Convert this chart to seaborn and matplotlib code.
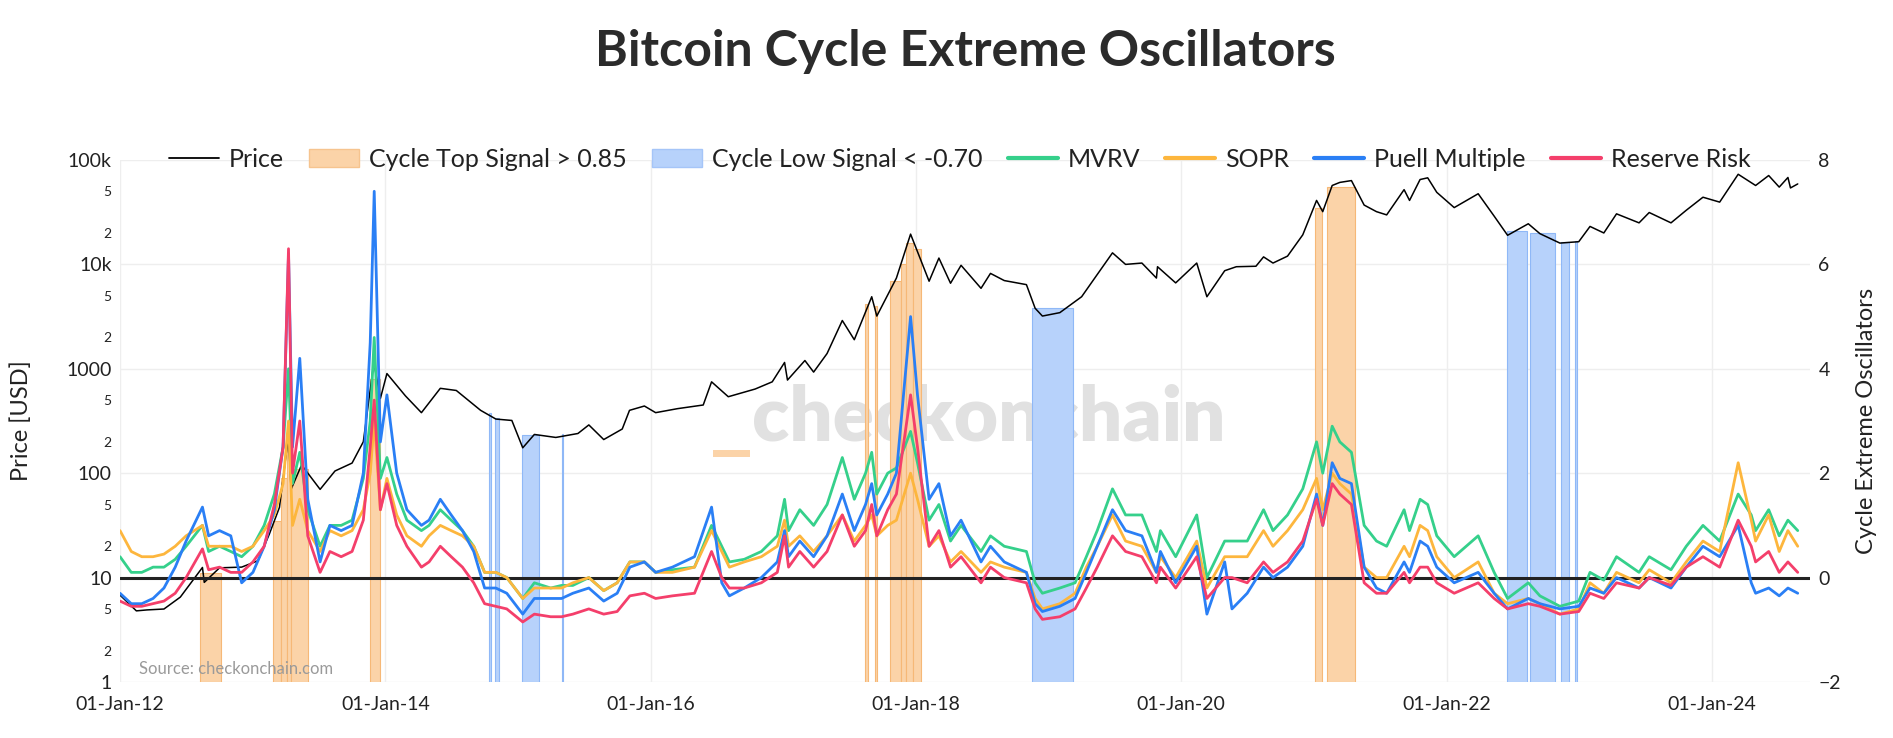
import numpy as np
import pandas as pd
import matplotlib
matplotlib.use('Agg')
import matplotlib.pyplot as plt
import matplotlib.dates as mdates
from matplotlib.lines import Line2D
from matplotlib.patches import Patch, Rectangle
import seaborn as sns

# ---- price (USD) ----
price_dates = ['2012-01-01', '2012-02-15', '2012-03-15', '2012-05-01', '2012-06-15', '2012-08-15', '2012-08-20',
               '2012-10-01', '2012-12-01', '2013-01-15', '2013-02-15', '2013-03-15', '2013-04-09', '2013-04-16',
               '2013-05-15', '2013-07-05', '2013-08-15', '2013-10-01', '2013-11-01', '2013-11-30', '2013-12-18',
               '2014-01-05', '2014-02-25', '2014-04-10', '2014-06-01', '2014-07-15', '2014-09-20', '2014-11-01',
               '2014-12-15', '2015-01-14', '2015-02-15', '2015-04-15', '2015-06-15', '2015-07-15', '2015-08-25',
               '2015-10-15', '2015-11-04', '2015-12-15', '2016-01-15', '2016-03-15', '2016-05-25', '2016-06-17',
               '2016-08-02', '2016-10-15', '2016-12-01', '2017-01-04', '2017-01-12', '2017-03-01', '2017-03-25',
               '2017-05-01', '2017-06-12', '2017-07-15', '2017-09-01', '2017-09-15', '2017-11-08', '2017-12-17',
               '2018-02-06', '2018-03-05', '2018-04-06', '2018-05-05', '2018-06-29', '2018-07-25', '2018-09-01',
               '2018-11-01', '2018-11-25', '2018-12-15', '2019-02-01', '2019-04-02', '2019-05-15', '2019-06-26',
               '2019-08-01', '2019-09-15', '2019-10-25', '2019-10-28', '2019-12-17', '2020-02-13', '2020-03-12',
               '2020-04-30', '2020-06-01', '2020-07-25', '2020-08-15', '2020-09-10', '2020-10-20', '2020-12-01',
               '2021-01-08', '2021-01-25', '2021-02-20', '2021-03-13', '2021-04-14', '2021-05-19', '2021-06-22',
               '2021-07-20', '2021-09-06', '2021-09-21', '2021-10-20', '2021-11-10', '2021-12-05', '2022-01-22',
               '2022-03-29', '2022-05-12', '2022-06-18', '2022-08-14', '2022-09-15', '2022-11-09', '2022-12-31',
               '2023-01-31', '2023-03-10', '2023-04-14', '2023-06-15', '2023-07-13', '2023-09-11', '2023-10-23',
               '2023-12-08', '2024-01-23', '2024-03-14', '2024-05-01', '2024-06-06', '2024-07-05', '2024-07-29',
               '2024-08-05', '2024-08-25']
price = [6.8, 4.8, 4.9, 5.0, 6.5, 12.5, 9.0,
         12.4, 12.6, 14.5, 26, 47, 230, 70,
         120, 70, 105, 125, 200, 1150, 520,
         900, 550, 380, 650, 620, 400, 330,
         320, 175, 235, 220, 240, 290, 210,
         265, 400, 440, 380, 415, 450, 750,
         540, 640, 750, 1150, 780, 1200, 930,
         1400, 2900, 1900, 4900, 3200, 7400, 19500,
         6900, 11500, 6600, 9800, 5900, 8200, 7000,
         6400, 3800, 3200, 3450, 4900, 8000, 12900,
         10000, 10300, 7400, 9500, 6650, 10300, 4900,
         8700, 9500, 9600, 11800, 10300, 12000, 19200,
         41000, 32000, 57000, 61000, 63500, 37000, 32000,
         29800, 52000, 41000, 65000, 67500, 49000, 35000,
         47500, 29000, 19000, 24500, 19700, 16000, 16500,
         23100, 20000, 30500, 25000, 31400, 25000, 33000,
         44000, 39500, 73000, 57000, 71000, 55000, 68000,
         54000, 59000]

# ---- oscillators ----
osc_dates = ['2012-01-01', '2012-02-01', '2012-03-01', '2012-04-01', '2012-05-01', '2012-06-01', '2012-07-01',
             '2012-08-15', '2012-09-01', '2012-10-01', '2012-11-01', '2012-12-01', '2013-01-01', '2013-02-01',
             '2013-03-01', '2013-03-25', '2013-04-09', '2013-04-20', '2013-05-10', '2013-06-01', '2013-07-05',
             '2013-08-01', '2013-09-01', '2013-10-01', '2013-11-01', '2013-11-20', '2013-12-01', '2013-12-18',
             '2014-01-05', '2014-02-01', '2014-03-01', '2014-04-10', '2014-05-01', '2014-06-01', '2014-07-01',
             '2014-08-01', '2014-09-01', '2014-10-01', '2014-11-01', '2014-12-01', '2015-01-14', '2015-02-15',
             '2015-04-01', '2015-05-01', '2015-06-01', '2015-07-15', '2015-08-25', '2015-10-01', '2015-11-05',
             '2015-12-15', '2016-01-15', '2016-03-01', '2016-05-01', '2016-06-17', '2016-07-15', '2016-08-05',
             '2016-09-15', '2016-11-01', '2016-12-15', '2017-01-04', '2017-01-15', '2017-02-15', '2017-03-25',
             '2017-05-01', '2017-06-12', '2017-07-15', '2017-08-15', '2017-09-01', '2017-09-15', '2017-10-15',
             '2017-11-08', '2017-12-17', '2018-01-05', '2018-02-06', '2018-03-05', '2018-04-06', '2018-05-05',
             '2018-06-29', '2018-07-25', '2018-09-01', '2018-11-01', '2018-11-25', '2018-12-15', '2019-02-01',
             '2019-03-15', '2019-04-15', '2019-05-15', '2019-06-26', '2019-08-01', '2019-09-15', '2019-10-25',
             '2019-11-05', '2019-12-17', '2020-02-13', '2020-03-12', '2020-04-30', '2020-05-20', '2020-07-01',
             '2020-08-15', '2020-09-10', '2020-10-20', '2020-12-01', '2021-01-08', '2021-01-25', '2021-02-20',
             '2021-03-13', '2021-04-14', '2021-05-19', '2021-06-22', '2021-07-20', '2021-09-06', '2021-09-21',
             '2021-10-20', '2021-11-10', '2021-12-05', '2022-01-22', '2022-03-29', '2022-05-12', '2022-06-18',
             '2022-08-14', '2022-09-15', '2022-11-09', '2022-12-31', '2023-01-31', '2023-03-10', '2023-04-14',
             '2023-06-15', '2023-07-13', '2023-09-11', '2023-10-23', '2023-12-08', '2024-01-23', '2024-03-14',
             '2024-04-19', '2024-05-01', '2024-06-06', '2024-07-05', '2024-07-29', '2024-08-25']
mvrv = [0.4, 0.1, 0.1, 0.2, 0.2, 0.35, 0.6,
        1.0, 0.5, 0.6, 0.5, 0.4, 0.6, 1.0,
        1.6, 2.5, 4.0, 1.8, 2.4, 1.3, 0.6,
        1.0, 1.0, 1.1, 1.9, 3.0, 4.6, 1.9,
        2.3, 1.6, 1.1, 0.9, 1.0, 1.3, 1.1,
        0.9, 0.6, 0.1, 0.1, 0.0, -0.4, -0.1,
        -0.2, -0.15, -0.15, 0.0, -0.25, -0.1, 0.3,
        0.3, 0.1, 0.15, 0.2, 1.0, 0.6, 0.3,
        0.35, 0.5, 0.8, 1.5, 0.9, 1.3, 1.0,
        1.4, 2.3, 1.5, 2.0, 2.4, 1.6, 2.0,
        2.1, 2.8, 2.2, 1.1, 1.4, 0.7, 1.0,
        0.5, 0.8, 0.6, 0.5, -0.1, -0.3, -0.2,
        -0.1, 0.4, 0.9, 1.7, 1.2, 1.2, 0.5,
        0.9, 0.4, 1.2, 0.0, 0.7, 0.7, 0.7,
        1.3, 0.9, 1.2, 1.7, 2.6, 2.0, 2.9,
        2.6, 2.4, 1.0, 0.7, 0.6, 1.3, 0.9,
        1.5, 1.4, 0.8, 0.4, 0.8, 0.1, -0.4,
        -0.1, -0.35, -0.55, -0.45, 0.1, -0.05, 0.4,
        0.1, 0.4, 0.15, 0.6, 1.0, 0.7, 1.6,
        1.2, 0.9, 1.3, 0.8, 1.1, 0.9]
sopr = [0.9, 0.5, 0.4, 0.4, 0.45, 0.6, 0.8,
        1.0, 0.6, 0.6, 0.6, 0.5, 0.6, 0.9,
        1.2, 1.8, 3.0, 1.0, 1.5, 0.9, 0.5,
        0.9, 0.8, 0.9, 1.3, 2.0, 3.0, 1.3,
        1.9, 1.2, 0.8, 0.6, 0.8, 1.0, 0.9,
        0.8, 0.6, 0.1, 0.1, 0.0, -0.4, -0.2,
        -0.2, -0.2, -0.1, 0.0, -0.25, -0.1, 0.3,
        0.3, 0.1, 0.1, 0.2, 0.9, 0.5, 0.2,
        0.3, 0.4, 0.6, 1.1, 0.6, 0.8, 0.5,
        0.8, 1.2, 0.7, 1.0, 1.2, 0.8, 1.0,
        1.1, 2.0, 1.5, 0.6, 0.8, 0.3, 0.5,
        0.1, 0.3, 0.2, 0.1, -0.4, -0.6, -0.5,
        -0.3, 0.2, 0.6, 1.2, 0.7, 0.6, 0.1,
        0.4, 0.0, 0.7, -0.2, 0.4, 0.4, 0.4,
        0.9, 0.6, 0.9, 1.3, 1.9, 1.3, 2.0,
        1.8, 1.6, 0.2, 0.0, 0.0, 0.6, 0.4,
        1.0, 0.9, 0.4, 0.0, 0.3, -0.3, -0.5,
        -0.4, -0.5, -0.7, -0.6, -0.1, -0.3, 0.1,
        -0.1, 0.15, -0.1, 0.3, 0.7, 0.5, 2.2,
        1.1, 0.7, 1.2, 0.5, 0.9, 0.6]
puell = [-0.3, -0.5, -0.5, -0.4, -0.2, 0.2, 0.7,
         1.35, 0.8, 0.9, 0.8, -0.1, 0.1, 0.6,
         1.3, 2.5, 6.2, 2.5, 4.2, 1.5, 0.3,
         1.0, 0.9, 1.0, 2.0, 4.5, 7.4, 2.6,
         3.5, 2.0, 1.3, 1.0, 1.1, 1.5, 1.2,
         0.9, 0.5, -0.2, -0.2, -0.3, -0.7, -0.4,
         -0.4, -0.4, -0.3, -0.2, -0.45, -0.3, 0.2,
         0.3, 0.1, 0.2, 0.4, 1.35, -0.1, -0.35,
         -0.2, 0.0, 0.3, 0.9, 0.4, 0.7, 0.4,
         0.8, 1.6, 0.9, 1.4, 1.8, 1.2, 1.6,
         2.0, 5.0, 3.5, 1.5, 1.8, 0.8, 1.1,
         0.3, 0.6, 0.3, 0.1, -0.5, -0.65, -0.55,
         -0.4, 0.1, 0.6, 1.3, 0.9, 0.8, 0.1,
         0.5, -0.1, 0.6, -0.7, 0.3, -0.6, -0.3,
         0.2, 0.0, 0.2, 0.6, 1.6, 1.0, 2.2,
         1.9, 1.8, 0.2, -0.2, -0.3, 0.3, 0.1,
         0.7, 0.6, 0.2, -0.1, 0.1, -0.3, -0.6,
         -0.4, -0.5, -0.6, -0.55, -0.2, -0.3, 0.0,
         -0.2, 0.0, -0.2, 0.2, 0.6, 0.4, 1.0,
         -0.1, -0.3, -0.2, -0.35, -0.2, -0.3]
reserve_risk = [-0.45, -0.55, -0.55, -0.5, -0.45, -0.3, 0.0,
                0.55, 0.15, 0.2, 0.1, 0.1, 0.3, 0.6,
                1.4, 2.5, 6.3, 2.0, 3.0, 0.8, 0.1,
                0.5, 0.4, 0.5, 1.1, 2.5, 3.4, 1.3,
                1.8, 1.0, 0.6, 0.2, 0.3, 0.6, 0.4,
                0.2, -0.1, -0.5, -0.55, -0.6, -0.85, -0.7,
                -0.75, -0.75, -0.7, -0.6, -0.7, -0.65, -0.35,
                -0.3, -0.4, -0.35, -0.3, 0.5, 0.0, -0.2,
                -0.2, -0.1, 0.1, 0.8, 0.2, 0.5, 0.2,
                0.5, 1.2, 0.6, 0.9, 1.4, 0.8, 1.3,
                1.6, 3.5, 2.5, 0.6, 0.9, 0.2, 0.4,
                -0.1, 0.2, 0.0, -0.1, -0.6, -0.8, -0.75,
                -0.6, -0.2, 0.2, 0.8, 0.5, 0.4, -0.1,
                0.2, -0.2, 0.4, -0.4, 0.0, 0.0, -0.1,
                0.3, 0.1, 0.3, 0.7, 1.5, 1.0, 1.8,
                1.6, 1.4, -0.1, -0.3, -0.3, 0.1, -0.1,
                0.2, 0.2, -0.1, -0.3, -0.1, -0.4, -0.6,
                -0.5, -0.55, -0.7, -0.65, -0.3, -0.4, -0.1,
                -0.2, 0.0, -0.15, 0.2, 0.4, 0.2, 1.1,
                0.6, 0.3, 0.5, 0.1, 0.3, 0.1]

# ---- signal bands: start, end, price reached ----
top_start = ['2012-08-08', '2013-02-24', '2013-03-20', '2013-04-05', '2013-04-15', '2013-11-20',
             '2017-08-14', '2017-09-09', '2017-10-22', '2017-11-20', '2017-12-05', '2017-12-25',
             '2021-01-04', '2021-02-06']
top_end = ['2012-10-05', '2013-03-20', '2013-04-05', '2013-04-15', '2013-06-03', '2013-12-16',
           '2017-08-21', '2017-09-16', '2017-11-20', '2017-12-05', '2017-12-25', '2018-01-15',
           '2021-01-22', '2021-04-23']
top_price = [11, 35, 90, 200, 110, 800,
             4200, 4000, 7000, 10000, 16000, 14000,
             35000, 55000]

low_start = ['2014-10-12', '2014-10-30', '2015-01-11', '2015-05-01', '2018-11-17',
             '2022-06-17', '2022-08-18', '2022-11-13', '2022-12-20']
low_end = ['2014-10-19', '2014-11-10', '2015-02-28', '2015-05-05', '2019-03-10',
           '2022-08-10', '2022-10-26', '2022-12-05', '2022-12-25']
low_price = [380, 340, 230, 235, 3800,
             21000, 20000, 16500, 16800]

C_MVRV = '#35d08b'
C_SOPR = '#fdb63d'
C_PUELL = '#2a7ff5'
C_RR = '#f43f6b'
C_TOP = '#fbd3a8'
C_LOW = '#b7d2fb'

sns.set_style("white")
plt.rcParams['font.family'] = ['Lato', 'DejaVu Sans']

fig = plt.figure(figsize=(18.93, 7.38), dpi=100)
ax = fig.add_axes([0.0634, 0.0759, 0.8928, 0.7073])
ax2 = ax.twinx()

pdates = pd.to_datetime(price_dates)
odates = pd.to_datetime(osc_dates)

# bands on price axis
for s, e, p in zip(top_start, top_end, top_price):
    s, e = pd.Timestamp(s), pd.Timestamp(e)
    ax.bar(s, p - 1, bottom=1, width=(e - s).days, align='edge', color=C_TOP,
           edgecolor='#f6b877', linewidth=0.8, zorder=2)
for s, e, p in zip(low_start, low_end, low_price):
    s, e = pd.Timestamp(s), pd.Timestamp(e)
    ax.bar(s, p - 1, bottom=1, width=(e - s).days, align='edge', color=C_LOW,
           edgecolor='#8fb8f7', linewidth=0.8, zorder=2)

sns.lineplot(x=pdates, y=price, ax=ax, color='black', linewidth=1.1, zorder=3)
ax.set_yscale('log')
ax.set_ylim(1, 100000)

# oscillators
ax2.axhline(0, color='#222222', linewidth=2.2, zorder=1)
for vals, col in [(mvrv, C_MVRV), (sopr, C_SOPR), (puell, C_PUELL), (reserve_risk, C_RR)]:
    sns.lineplot(x=odates, y=vals, ax=ax2, color=col, linewidth=2.0, zorder=2)
ax2.set_ylim(-2, 8)
ax2.set_yticks([-2, 0, 2, 4, 6, 8])
ax2.set_yticklabels(['\u22122', '0', '2', '4', '6', '8'])

ax.set_xlim(pd.Timestamp('2012-01-01'), pd.Timestamp('2024-09-28'))
ax.xaxis.set_major_locator(mdates.YearLocator(2))
ax.xaxis.set_major_formatter(mdates.DateFormatter('%d-%b-%y'))

# log axis labels
major = [1, 10, 100, 1000, 10000, 100000]
ax.set_yticks(major)
ax.set_yticklabels(['1', '10', '100', '1000', '10k', '100k'])
minor = [m * d for d in [1, 10, 100, 1000, 10000] for m in (2, 5)]
ax.set_yticks(minor, minor=True)
ax.set_yticklabels(['2' if str(int(v))[0] == '2' else '5' for v in minor], minor=True)
ax.tick_params(axis='y', which='major', labelsize=14, length=0, pad=6)
ax.tick_params(axis='y', which='minor', labelsize=10, length=0, pad=6)
ax.tick_params(axis='x', labelsize=14, length=0, pad=10)
ax2.tick_params(axis='y', labelsize=14, length=0, pad=6)
for lab in ax.get_yticklabels() + ax.get_yticklabels(minor=True) + ax.get_xticklabels() + ax2.get_yticklabels():
    lab.set_color('#222222')

ax.grid(True, which='major', color='#eeeeee', linewidth=1)
ax.grid(False, which='minor')
ax2.grid(False)
for a in (ax, ax2):
    for sp in a.spines.values():
        sp.set_visible(False)

ax.set_ylabel('')
ax2.set_ylabel('')
ax.set_xlabel('')
fig.text(0.011, 0.4295, 'Price [USD]', rotation=90, ha='center', va='center', fontsize=17, color='#222222')
fig.text(0.986, 0.4295, 'Cycle Extreme Oscillators', rotation=90, ha='center', va='center',
         fontsize=17, color='#222222')

# watermark and source
ax.text(0.514, 0.505, 'checkonchain', transform=ax.transAxes, ha='center', va='center',
        fontsize=55, fontweight='heavy', color='#dcdcdc', alpha=0.85, zorder=1)
ax.add_patch(Rectangle((0.351, 0.431), 0.022, 0.013, transform=ax.transAxes,
                       facecolor=C_TOP, edgecolor='none', zorder=1))
ax.text(0.011, 0.025, 'Source: checkonchain.com', transform=ax.transAxes, ha='left', va='center',
        fontsize=12, color='#9a9a9a', zorder=4)

fig.text(0.510, 0.93, 'Bitcoin Cycle Extreme Oscillators', ha='center', va='center',
         fontsize=36, fontweight='bold', color='#2b2b2b')

handles = [Line2D([0], [0], color='black', linewidth=1.3),
           Patch(facecolor=C_TOP, edgecolor='#f6c48f'),
           Patch(facecolor=C_LOW, edgecolor='#a5c5f8'),
           Line2D([0], [0], color=C_MVRV, linewidth=3),
           Line2D([0], [0], color=C_SOPR, linewidth=3),
           Line2D([0], [0], color=C_PUELL, linewidth=3),
           Line2D([0], [0], color=C_RR, linewidth=3)]
labels = ['Price', 'Cycle Top Signal > 0.85', 'Cycle Low Signal < -0.70', 'MVRV', 'SOPR',
          'Puell Multiple', 'Reserve Risk']
fig.legend(handles, labels, loc='center', bbox_to_anchor=(0.507, 0.784), ncol=7, frameon=False,
           fontsize=18, handlelength=2.0, handleheight=0.7, columnspacing=1.0, handletextpad=0.4,
           labelcolor='#222222')

fig.savefig('out.png', dpi=100)
